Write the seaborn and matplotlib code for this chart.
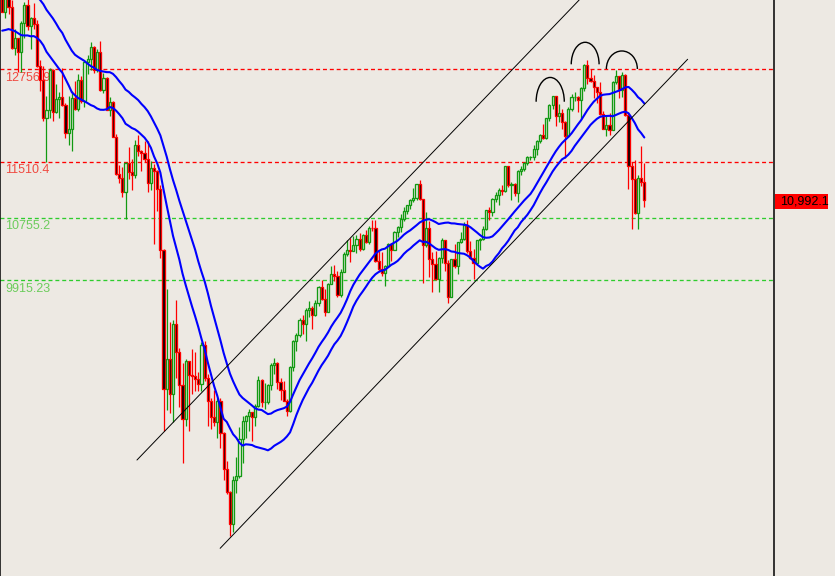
import numpy as np
import pandas as pd
import matplotlib
matplotlib.use("Agg")
import matplotlib.pyplot as plt
import matplotlib.transforms as mtransforms
from matplotlib.patches import Arc, Rectangle
import seaborn as sns

# weekly candles, week of 2007-10-19 .. 2011-09-09
opens = [
    14093, 13522, 13807, 13595, 13042, 13176, 12981, 13372, 13625, 13339, 13450,
    13366, 12800, 12606, 12099, 12207, 12743, 12183, 12348, 12381, 12266, 11894, 11951, 12361,
    12216, 12609, 12325, 12849, 12891, 13058, 12745, 12986, 12480, 12638, 12210, 12307, 11843,
    11347, 11288, 11100, 11496, 11370, 11326, 11734, 11659, 11628, 11544, 11220, 11421, 11388,
    11143, 10325, 8451, 8852, 8378, 9325, 8943, 8497, 8046, 8829, 8635, 8629, 8579,
    8515, 9034, 8599, 8281, 8077, 8001, 8280, 7850, 7366, 7063, 6627, 7224, 7279, 7776,
    8018, 8083, 8131, 8076, 8212, 8575, 8268, 8277, 8500, 8764, 8799, 8539, 8438, 8280,
    8146, 8743, 9093, 9171, 9370, 9321, 9505, 9544, 9441, 9605, 9820, 9665, 9487, 9865,
    9996, 9972, 9713, 10023, 10270, 10318, 10310, 10388, 10471, 10329, 10520,
    10428, 10619, 10610, 10173, 10067, 10012, 10099, 10402, 10325, 10567, 10625, 10742, 10851,
    10927, 10998, 11019, 11204, 11009, 10380, 10620, 10193, 10137, 9932, 10212, 10450, 10144,
    9686, 10198, 10098, 10425, 10466, 10654, 10303, 10214, 10151, 10448, 10462, 10608, 10860,
    10829, 11006, 11063, 11133, 11118, 11445, 11193, 11204, 11092, 11382, 11411, 11492, 11573,
    11578, 11674, 11787, 11872, 11824, 12092, 12273, 12391, 12130, 12170, 12044, 11859, 12221,
    12377, 12380, 12342, 12505, 12811, 12638, 12596, 12512, 12441, 12151, 11952, 12004, 11934,
    12582, 12657, 12480, 12681, 12143, 11445, 11269, 10817, 11284, 11240,
]
highs = [
    14110, 13890, 13930, 13680, 13300, 13180, 13400, 13660, 13790, 13460, 13650,
    13420, 12880, 12800, 12390, 12770, 12760, 12560, 12450, 12770, 12300, 12390, 12460, 12590,
    12690, 12660, 12860, 12940, 13120, 13060, 13030, 13140, 12700, 12650, 12380, 12330, 11880,
    11460, 11440, 11500, 11700, 11550, 11800, 11870, 11670, 11790, 11790, 11520, 11480, 11400,
    11200, 10330, 9800, 9350, 9370, 9650, 9000, 8800, 8850, 8830, 8990, 8950, 8670,
    9080, 9090, 8650, 8330, 8430, 8320, 8320, 7870, 7480, 7070, 7270, 7530, 7930, 8080,
    8100, 8180, 8140, 8240, 8620, 8580, 8530, 8520, 8800, 8870, 8810, 8590, 8560, 8310,
    8760, 9110, 9200, 9400, 9440, 9540, 9630, 9560, 9640, 9830, 9920, 9790, 9880, 10100,
    10120, 10040, 10060, 10290, 10460, 10480, 10510, 10520, 10550, 10530, 10590,
    10640, 10730, 10730, 10310, 10290, 10120, 10420, 10420, 10580, 10640, 10800, 10900, 10930,
    11000, 11150, 11210, 11260, 11010, 10830, 10710, 10290, 10300, 10220, 10480, 10450, 10180,
    10200, 10400, 10430, 10560, 10700, 10720, 10440, 10330, 10460, 10480, 10640, 10860, 10900,
    11020, 11100, 11160, 11200, 11450, 11450, 11240, 11220, 11400, 11450, 11500, 11580, 11590,
    11740, 11800, 11880, 12020, 12100, 12280, 12400, 12400, 12290, 12220, 12050, 12240, 12420,
    12450, 12400, 12510, 12820, 12880, 12760, 12670, 12520, 12580, 12190, 12130, 12170, 12600,
    12750, 12660, 12710, 12690, 12160, 11500, 11530, 11330, 11720, 11490,
]
lows = [
    13522, 13440, 13500, 13030, 12940, 12720, 12720, 13170, 13280, 13030, 13300,
    12790, 12460, 12060, 11510, 12100, 12050, 12170, 12100, 12260, 11830, 11730, 11650, 12200,
    12190, 12300, 12250, 12690, 12750, 12700, 12710, 12460, 12430, 12200, 12130, 11840, 11330,
    11220, 11030, 10740, 11280, 11130, 11290, 11580, 11380, 11500, 11100, 11130, 10400, 10850,
    10210, 7880, 8170, 8130, 8000, 8600, 8200, 7450, 7950, 7880, 8380, 8420, 8420,
    8420, 8550, 7950, 7910, 7950, 7790, 7650, 7220, 7030, 6470, 6520, 7050, 7250, 7450,
    7790, 7880, 7750, 7950, 8200, 8200, 8180, 8240, 8440, 8650, 8450, 8300, 8280, 8090,
    8140, 8690, 8960, 9150, 9190, 9100, 9420, 9250, 9430, 9570, 9650, 9430, 9480, 9860,
    9900, 9680, 9680, 10020, 10240, 10160, 10300, 10280, 10300, 10320, 10420,
    10400, 10570, 10160, 10030, 9970, 9840, 10090, 10170, 10320, 10500, 10560, 10710, 10810,
    10870, 10970, 10990, 10990, 9870, 10360, 9960, 9760, 9920, 9750, 10150, 10040, 9610,
    9680, 10080, 9990, 10410, 10460, 10280, 10200, 9930, 10140, 10320, 10460, 10590, 10730,
    10780, 10970, 10930, 11060, 11100, 11170, 10990, 11040, 10970, 11330, 11380, 11470, 11530,
    11530, 11600, 11760, 11820, 11820, 12050, 12220, 11990, 12040, 11950, 11560, 11850, 12190,
    12320, 12180, 12090, 12460, 12560, 12580, 12370, 12300, 12140, 11950, 11860, 11870, 11930,
    12560, 12370, 12380, 12130, 11140, 10600, 10810, 10600, 11180, 10905,
]
closes = [
    13522, 13807, 13595, 13042, 13176, 12981, 13372, 13625, 13339, 13450, 13366,
    12800, 12606, 12099, 12207, 12743, 12183, 12348, 12381, 12266, 11894, 11951, 12361, 12216,
    12609, 12325, 12849, 12891, 13058, 12745, 12986, 12480, 12638, 12210, 12307, 11843, 11347,
    11288, 11100, 11496, 11370, 11326, 11734, 11659, 11628, 11544, 11220, 11421, 11388, 11143,
    10325, 8451, 8852, 8378, 9325, 8943, 8497, 8046, 8829, 8635, 8629, 8579, 8515,
    9034, 8599, 8281, 8077, 8001, 8280, 7850, 7366, 7063, 6627, 7224, 7279, 7776, 8018,
    8083, 8131, 8076, 8212, 8575, 8268, 8277, 8500, 8764, 8799, 8539, 8438, 8280, 8146,
    8743, 9093, 9171, 9370, 9321, 9505, 9544, 9441, 9605, 9820, 9665, 9487, 9865, 9996,
    9972, 9713, 10023, 10270, 10318, 10310, 10388, 10471, 10329, 10520, 10428,
    10619, 10610, 10173, 10067, 10012, 10099, 10402, 10325, 10567, 10625, 10742, 10851, 10927,
    10998, 11019, 11204, 11009, 10380, 10620, 10193, 10137, 9932, 10212, 10450, 10144, 9686,
    10198, 10098, 10425, 10466, 10654, 10303, 10214, 10151, 10448, 10462, 10608, 10860, 10829,
    11006, 11063, 11133, 11118, 11445, 11193, 11204, 11092, 11382, 11411, 11492, 11573, 11578,
    11674, 11787, 11872, 11824, 12092, 12273, 12391, 12130, 12170, 12044, 11859, 12221, 12377,
    12380, 12342, 12505, 12811, 12638, 12596, 12512, 12441, 12151, 11952, 12004, 11934, 12582,
    12657, 12480, 12681, 12143, 11445, 11269, 10817, 11284, 11240, 10992.1,
]

# horizontal price levels
level_values = [12756.9, 11510.4, 10755.2, 9915.23]
level_labels = ["12756.9", "11510.4", "10755.2", "9915.23"]
level_kinds = ["res", "res", "sup", "sup"]

# hand drawn channel (week index, price)
upper_chan_week = [42.6, 182.4]
upper_chan_price = [7491, 13686]
lower_chan_week = [68.9, 216.7]
lower_chan_price = [6302, 12888]

# arcs over the three tops (centre week, base price, width in weeks, height in points)
arc_week = [173.25, 184.3, 195.9]
arc_price = [12316, 12820, 12757]
arc_width = [8.9, 8.8, 9.8]
arc_height = [654, 593, 485]

# 20 week averages of highs / lows; level of the averages before the first week,
# read from where the two blue lines enter the chart
ma_period = 20
ma_seed_high = 13910
ma_seed_low = 13260

bg = "#ede9e3"
red = "#ff0000"
green = "#129a12"
blue = "#0000ff"

sns.set_theme(style="white", rc={"axes.facecolor": bg, "figure.facecolor": bg})
plt.rcParams["font.family"] = ["Liberation Sans", "DejaVu Sans"]

df = pd.DataFrame({"week": np.arange(len(closes)), "open": opens, "high": highs,
                   "low": lows, "close": closes})
pad = ma_period - 1
hi_ext = pd.Series([ma_seed_high] * pad + highs)
lo_ext = pd.Series([ma_seed_low] * pad + lows)
df["ma_high"] = hi_ext.rolling(ma_period).mean().iloc[pad:].to_numpy()
df["ma_low"] = lo_ext.rolling(ma_period).mean().iloc[pad:].to_numpy()

fig = plt.figure(figsize=(8.35, 5.76), dpi=100)
ax = fig.add_axes([0, 0, 774 / 835, 1])

# price levels
for v, lab, kind in zip(level_values, level_labels, level_kinds):
    lc = red if kind == "res" else "#2ecc2e"
    tc = "#f04a40" if kind == "res" else "#6ccc5c"
    ax.axhline(v, color=lc, lw=0.95, ls=(0, (3, 2.2)), zorder=1)
    ax.annotate(lab, xy=(0, v), xycoords=("axes fraction", "data"),
                xytext=(3.6, -2.0), textcoords="offset points",
                ha="left", va="top", fontsize=9, color=tc)

# candles
up = df["close"] >= df["open"]
wick_cols = np.where(up, green, red)
fill_cols = np.where(up, bg, "black")
ax.vlines(df["week"], df["low"], df["high"], colors=wick_cols, lw=0.9, zorder=3)
ax.bar(df["week"], (df["close"] - df["open"]).abs(),
       bottom=np.minimum(df["open"], df["close"]), width=0.68,
       color=fill_cols, edgecolor=wick_cols, linewidth=0.95, zorder=4)

# moving averages of highs and lows
sns.lineplot(data=df, x="week", y="ma_high", color=blue, lw=1.5, ax=ax, zorder=5)
sns.lineplot(data=df, x="week", y="ma_low", color=blue, lw=1.5, ax=ax, zorder=5)

# channel
ax.plot(upper_chan_week, upper_chan_price, color="black", lw=0.7, zorder=6)
ax.plot(lower_chan_week, lower_chan_price, color="black", lw=0.7, zorder=6)

for cx, cy, w, h in zip(arc_week, arc_price, arc_width, arc_height):
    ax.add_patch(Arc((cx, cy), w, h, theta1=0, theta2=180, color="black", lw=1.0, zorder=6))

ax.set_xlim(-0.7, 244.0)
ax.set_ylim(5929.1, 13686.1)
ax.set_xticks([])
ax.set_yticks([])
ax.set_xlabel("")
ax.set_ylabel("")
for s in ["top", "bottom"]:
    ax.spines[s].set_visible(False)
for s in ["left", "right"]:
    ax.spines[s].set_color("black")
    ax.spines[s].set_linewidth(1.1)

# last price tag
last = closes[-1]
trans = mtransforms.blended_transform_factory(ax.transAxes, ax.transData)
ax.add_patch(Rectangle((1.0015, last - 121), 53 / 774, 202, transform=trans,
                       facecolor=red, edgecolor="none", clip_on=False, zorder=7))
ax.text(780 / 774, last - 20, f"{last:,.1f}", transform=trans, ha="left", va="center",
        fontsize=9, color="black", clip_on=False, zorder=8)

fig.savefig("out.png", dpi=100, facecolor=bg)
